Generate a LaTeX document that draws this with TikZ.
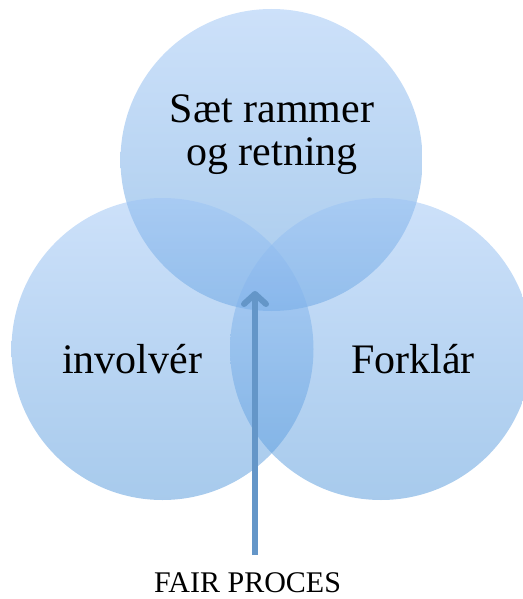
\documentclass[tikz,border=0pt]{standalone}
\usepackage{fontspec}
\setmainfont{Liberation Serif}
\usetikzlibrary{arrows.meta}
\definecolor{ctop}{RGB}{155,195,245}
\definecolor{cbot}{RGB}{80,150,218}
\definecolor{arrowc}{RGB}{100,150,200}
\tikzset{
  bubble/.style={circle, minimum size=302pt, inner sep=0pt, draw=none,
    top color=ctop, bottom color=cbot, fill opacity=0.5},
  bigtext/.style={font=\fontsize{42}{42}\selectfont, anchor=base, inner sep=0pt},
  captext/.style={font=\fontsize{30}{30}\selectfont, anchor=base, inner sep=0pt},
  pointer/.style={draw=arrowc, line width=6pt,
    -{Straight Barb[length=10pt,width=22pt,line cap=round,line join=round]}}
}
\begin{document}
\begin{tikzpicture}[x=1pt,y=-1pt]
\useasboundingbox (0,0) rectangle (522,599);
\node[bubble] (top) at (271.5,160) {};
\node[bubble] (left) at (162.5,349) {};
\node[bubble] (right) at (381,349) {};
\node[bigtext] (t1) at (272,123) {Sæt rammer};
\node[bigtext] (t2) at (272,165) {og retning};
\node[bigtext] (inv) at (132,373) {involvér};
\node[bigtext] (fork) at (413,373) {Forklár};
\node[captext] (fair) at (247.5,592) {FAIR PROCES};
\coordinate (astart) at (255,555);
\coordinate (atip) at (255,291);
\draw[pointer] (astart) -- (atip);
\end{tikzpicture}
\end{document}
